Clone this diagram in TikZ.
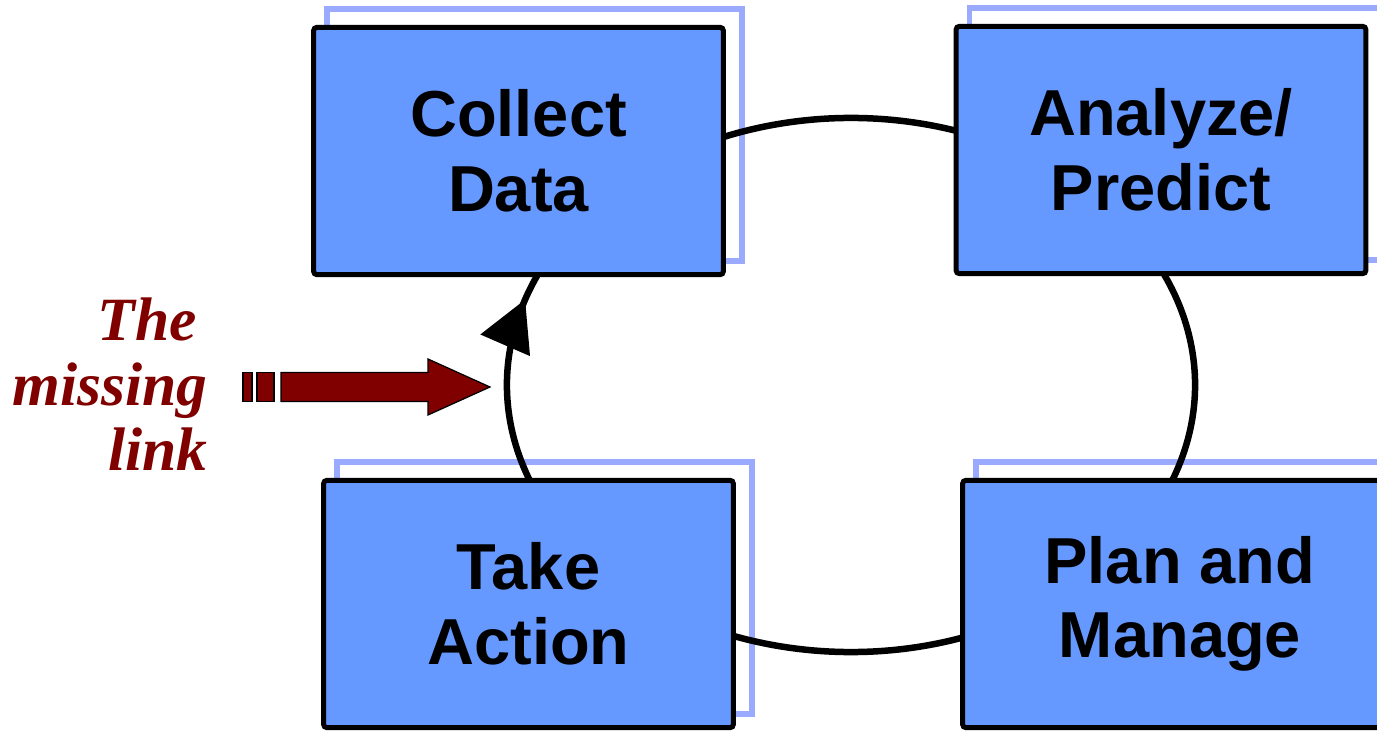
\documentclass[tikz,border=0pt]{standalone}
\usepackage{fontspec}
\setmainfont{Liberation Sans}
\newfontfamily\linkfont{Liberation Serif}
\usetikzlibrary{arrows.meta,backgrounds,decorations.markings}

\definecolor{boxblue}{HTML}{6699FF}
\definecolor{plateblue}{HTML}{99AAFF}
\definecolor{linkred}{HTML}{800000}

\tikzset{
  stage/.style={draw, line width=0.1cm, rounded corners=2pt, fill=boxblue,
    minimum width=8.2cm, minimum height=4.95cm, align=center,
    font=\bfseries\fontsize{37}{42.5}\selectfont},
  plate/.style={draw=plateblue, line width=0.11cm},
  loopline/.style={line width=0.13cm},
  linkarrow/.style={fill=linkred, draw=black, line width=0.7pt},
  linklabel/.style={text=linkred, align=right, inner sep=0pt,
    font=\linkfont\bfseries\itshape\fontsize{35}{37}\selectfont}
}

\begin{document}
\begin{tikzpicture}[x=0.02cm, y=0.02cm]
  \clip (0,0) rectangle (1377,731);

  % the four stages
  \node[stage] (collect) at (518.5,580) {Collect\\Data};
  \node[stage] (analyze) at (1161,581) {Analyze/\\Predict};
  \node[stage] (action) at (528.5,127) {Take\\Action};
  \node[stage, minimum width=8.7cm] (plan) at (1180,127) {Plan and\\Manage};

  \begin{scope}[on background layer]
    \foreach \n in {collect,analyze,action,plan}
      \draw[plate] ([shift={(16,16)}]\n.south west) rectangle ([shift={(16,16)}]\n.north east);
    % loop through the stages, arrow head where it leaves Take Action
    \coordinate (hub) at (851,346);
    \draw[loopline, postaction=decorate, decoration={markings,
        mark=at position 0.5pt with {\arrow{Triangle[length=1cm, width=1.05cm]}}}]
      ([shift={(161.5:344 and 267)}]hub) arc[start angle=161.5, delta angle=-360,
        x radius=344, y radius=267];
  \end{scope}

  % the missing link
  \node[linklabel, anchor=east] (missing) at (208,347) {The\kern0.22cm\\missing\\link};
  \coordinate (linktip) at (490,344);
  \foreach \a/\b in {243/252,257/274}
    \draw[linkarrow] (\a,329.5) rectangle (\b,358.5);
  \draw[linkarrow] (281,329.5) -- (428,329.5) -- (428,316) -- (linktip)
    -- (428,372) -- (428,358.5) -- (281,358.5) -- cycle;
\end{tikzpicture}
\end{document}
